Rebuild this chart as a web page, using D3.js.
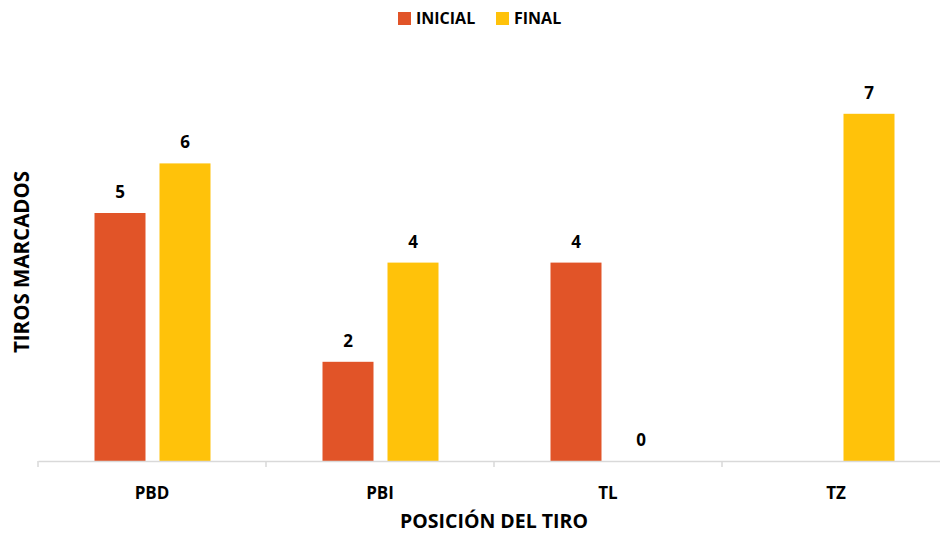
<!DOCTYPE html>
<html>
<head>
<meta charset="utf-8">
<script src="https://cdn.jsdelivr.net/npm/d3@7"></script>
<style>
  html, body { margin: 0; padding: 0; background: #fff; }
  svg text { font-family: "Open Sans", "Liberation Sans", sans-serif; font-weight: 700; fill: #000; }
</style>
</head>
<body>
<svg id="chart" width="940" height="533"></svg>
<script>
// Shots scored by position, before and after training
const categories = ["PBD", "PBI", "TL", "TZ"];
const seriesNames = ["INICIAL", "FINAL"];
const inicial = [5, 2, 4, null];
const final = [6, 4, 0, 7];
const colors = ["#E15428", "#FFC20A"];

const svg = d3.select("#chart");
const baseY = 461;

const x = d3.scaleBand().domain(categories).range([38, 950]).paddingInner(0).paddingOuter(0);
const y = d3.scaleLinear().domain([0, 8]).range([baseY, baseY - 8 * 49.6]);

const barW = 51, gap = 14;

const seriesValues = [inicial, final];
seriesNames.forEach((name, si) => {
  const data = categories.map((c, i) => ({ c, v: seriesValues[si][i] })).filter(d => d.v !== null);
  const offset = si === 0 ? -(barW + gap / 2) + 0.5 : gap / 2 + 0.5;
  const g = svg.append("g");
  g.selectAll("rect").data(data).join("rect")
    .attr("x", d => x(d.c) + x.bandwidth() / 2 + offset)
    .attr("y", d => y(d.v))
    .attr("width", barW)
    .attr("height", d => baseY - y(d.v))
    .attr("fill", colors[si]);
  g.selectAll("text").data(data).join("text")
    .attr("x", d => x(d.c) + x.bandwidth() / 2 + offset + barW / 2)
    .attr("y", d => y(d.v) - 15)
    .attr("text-anchor", "middle")
    .style("font-size", "17px")
    .text(d => d.v);
});

// Category axis
const axis = svg.append("g").attr("transform", `translate(0,${baseY})`)
  .call(d3.axisBottom(x).tickSize(0).tickFormat(""));
axis.select(".domain").attr("stroke", "#D9D9D9").attr("stroke-width", 1.5);
const bounds = categories.map(c => x(c)).concat([x.range()[1]]);
axis.selectAll(".sep").data(bounds).join("line").attr("class", "sep")
  .attr("x1", d => d).attr("x2", d => d).attr("y1", 0).attr("y2", 6)
  .attr("stroke", "#D9D9D9").attr("stroke-width", 1.5);
svg.append("g").selectAll("text").data(categories).join("text")
  .attr("x", d => x(d) + x.bandwidth() / 2)
  .attr("y", 499)
  .attr("text-anchor", "middle")
  .style("font-size", "17px")
  .text(d => d);

// Axis titles
svg.append("text").attr("x", 494).attr("y", 528).attr("text-anchor", "middle")
  .style("font-size", "19.5px").text("POSICIÓN DEL TIRO");
svg.append("text").attr("transform", "translate(29,262) rotate(-90)").attr("text-anchor", "middle")
  .style("font-size", "20.5px").text("TIROS MARCADOS");

// Legend
const legend = svg.append("g");
const legendX = [398, 496];
seriesNames.forEach((name, i) => {
  legend.append("rect").attr("x", legendX[i]).attr("y", 12).attr("width", 13).attr("height", 13).attr("fill", colors[i]);
  legend.append("text").attr("x", legendX[i] + 18).attr("y", 24).style("font-size", "16px").text(name);
});
</script>
</body>
</html>
